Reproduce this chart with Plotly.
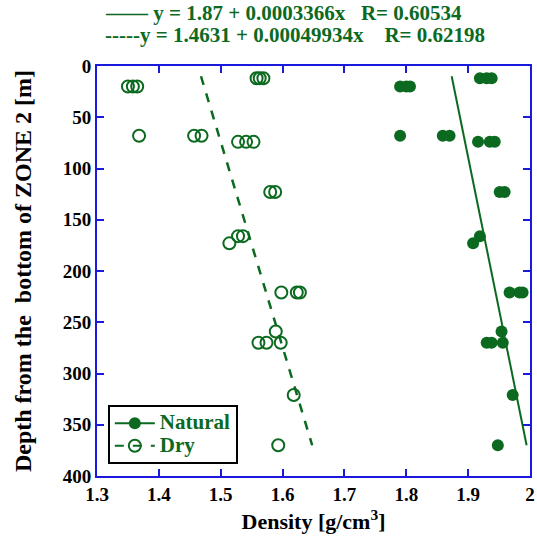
import plotly.graph_objects as go

# ---- data ----
dry_density = [1.350, 1.358, 1.365, 1.368, 1.457, 1.469, 1.528, 1.541, 1.553,
               1.558, 1.563, 1.569, 1.580, 1.588, 1.528, 1.536, 1.514,
               1.598, 1.623, 1.628, 1.589, 1.561, 1.574, 1.597, 1.618, 1.593]
dry_depth = [20, 20, 20, 68, 68, 68, 74, 74, 74,
             12, 12, 12, 123, 123, 166, 166, 173,
             221, 221, 221, 259, 270, 270, 270, 321, 370]

nat_density = [1.790, 1.800, 1.806, 1.790, 1.859, 1.870, 1.916, 1.935, 1.943,
               1.919, 1.930, 1.938, 1.951, 1.959, 1.919, 1.908,
               1.967, 1.983, 1.988, 1.954, 1.930, 1.938, 1.956, 1.972, 1.948]
nat_depth = [20, 20, 20, 68, 68, 68, 74, 74, 74,
             12, 12, 12, 123, 123, 166, 173,
             221, 221, 221, 259, 270, 270, 270, 321, 370]

fit_depth = [10, 370]
nat_fit_a, nat_fit_b = 1.87, 0.0003366
dry_fit_a, dry_fit_b = 1.4631, 0.00049934
nat_fit = [nat_fit_a + nat_fit_b * d for d in fit_depth]
dry_fit = [dry_fit_a + dry_fit_b * d for d in fit_depth]

x_ticks = [1.3, 1.4, 1.5, 1.6, 1.7, 1.8, 1.9, 2.0]
x_ticktext = ["1.3", "1.4", "1.5", "1.6", "1.7", "1.8", "1.9", "2"]
y_ticks = [0, 50, 100, 150, 200, 250, 300, 350, 400]

GREEN = "#0b6a1f"
BLUE = "#1a1adf"
FONT = "Liberation Serif"

fig = go.Figure()

# data points
fig.add_trace(go.Scatter(x=dry_density, y=dry_depth, mode="markers",
                         marker=dict(symbol="circle-open", size=12, color=GREEN,
                                     line=dict(width=2, color=GREEN)),
                         showlegend=False))
fig.add_trace(go.Scatter(x=nat_density, y=nat_depth, mode="markers",
                         marker=dict(symbol="circle", size=12, color=GREEN),
                         showlegend=False))
# fit lines
fig.add_trace(go.Scatter(x=nat_fit, y=fit_depth, mode="lines",
                         line=dict(color=GREEN, width=2), showlegend=False))
fig.add_trace(go.Scatter(x=dry_fit, y=fit_depth, mode="lines",
                         line=dict(color=GREEN, width=2.5, dash="dash"),
                         showlegend=False))
# legend entries
fig.add_trace(go.Scatter(x=[None], y=[None], mode="lines+markers",
                         name="<span style='font-size:21px'>Natural</span>",
                         line=dict(color=GREEN, width=2),
                         marker=dict(symbol="circle", size=12, color=GREEN)))
fig.add_trace(go.Scatter(x=[None], y=[None], mode="lines+markers",
                         name="<span style='font-size:21px'>Dry</span>",
                         line=dict(color=GREEN, width=2, dash="dash"),
                         marker=dict(symbol="circle-open", size=12, color=GREEN,
                                     line=dict(width=2, color=GREEN))))

axis_common = dict(showline=True, linecolor=BLUE, linewidth=2, mirror="ticks",
                   ticks="inside", tickcolor=BLUE, ticklen=7, tickwidth=2,
                   showgrid=False, zeroline=False, automargin=False,
                   tickfont=dict(family=FONT, size=19, color="black", weight="bold"))

fig.update_xaxes(range=[1.3, 2.0], tickvals=x_ticks, ticktext=x_ticktext,
                 title=dict(text="<b>Density [g/cm<sup>3</sup>]</b>",
                            font=dict(family=FONT, size=22, color="black"),
                            standoff=10),
                 **axis_common)
fig.update_yaxes(range=[400, 0], tickvals=y_ticks,
                 title=dict(text="<b>Depth from the  bottom of ZONE 2 [m]</b>",
                            font=dict(family=FONT, size=24, color="black"),
                            standoff=24),
                 **axis_common)

fig.add_annotation(x=0.014, y=1.13, xref="paper", yref="paper", xanchor="left",
                   yanchor="middle", showarrow=False,
                   text="<b>\u2014\u2014 y = 1.87 + 0.0003366x&nbsp;&nbsp;&nbsp;R= 0.60534</b>",
                   font=dict(family=FONT, size=21, color=GREEN))
fig.add_annotation(x=0.014, y=1.076, xref="paper", yref="paper", xanchor="left",
                   yanchor="middle", showarrow=False,
                   text="<b>-----y = 1.4631 + 0.00049934x&nbsp;&nbsp;&nbsp;&nbsp;R= 0.62198</b>",
                   font=dict(family=FONT, size=21, color=GREEN))

fig.update_layout(
    width=537, height=548,
    margin=dict(l=97, r=7, t=66, b=72),
    paper_bgcolor="white", plot_bgcolor="white",
    legend=dict(x=0.025, y=0.173, xanchor="left", yanchor="top",
                bgcolor="white", bordercolor="black", borderwidth=2,
                font=dict(family=FONT, size=15, color=GREEN, weight="bold"),
                tracegroupgap=0, itemwidth=40),
)

fig.write_html("out.html")
